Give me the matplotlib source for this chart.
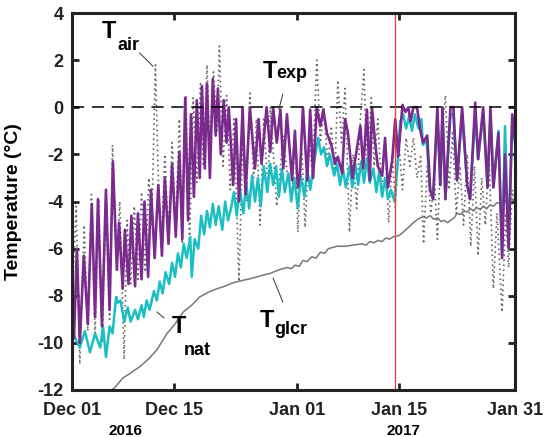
import numpy as np
import pandas as pd
import matplotlib
matplotlib.use("Agg")
import matplotlib.pyplot as plt

plt.rcParams['font.family'] = ['Liberation Sans', 'DejaVu Sans']
plt.rcParams['font.weight'] = 'bold'
plt.rcParams['axes.unicode_minus'] = False

# time axis: days since 2016-12-01 00:00
start = pd.Timestamp("2016-12-01")

# T_exp (purple) turning points
exp_day = [0.0, 0.3, 0.7, 1.1, 1.65, 2.2, 2.75, 3.2, 3.6, 4.15, 4.7, 5.2, 5.65, 6.2, 6.5, 7.0,
           7.3, 7.8, 8.2, 8.7, 9.1, 9.6, 10.0, 10.5, 10.9, 11.4, 11.9, 12.4, 12.8, 13.3, 13.8,
           14.3, 14.8, 15.2, 15.6, 16.0, 16.4, 16.8, 17.2, 17.6, 17.9, 18.3, 18.6, 19.0, 19.4,
           19.8, 20.1, 20.5, 20.9, 21.3, 21.6, 22.2, 22.6, 23.0, 23.5, 23.9, 24.5, 25.2, 25.7,
           26.1, 26.8, 27.3, 27.7, 28.2, 28.7, 29.1, 29.6, 30.3, 30.7, 31.1, 31.4, 31.8, 32.4,
           32.8, 33.2, 33.7, 34.2, 34.6, 35.1, 35.7, 36.2, 36.6, 37.2, 37.6, 38.0, 38.6, 39.7,
           40.1, 40.6, 41.0, 41.3, 41.7, 42.1, 42.7, 43.1, 43.5, 44.1, 44.5, 44.9, 45.5, 45.9,
           46.3, 46.6, 47.0, 47.5, 47.9, 48.3, 48.9, 49.3, 49.7, 50.3, 50.7, 51.0, 51.4, 52.1,
           52.5, 53.0, 53.7, 54.4, 54.8, 55.5, 55.9, 56.6, 57.2, 57.6, 58.0, 58.7, 59.2, 59.6,
           60.1, 60.6, 61.0]
exp_val = [-8.0, -9.8, -6.0, -10.0, -6.3, -9.2, -4.1, -8.9, -3.9, -9.3, -3.5, -8.6, -2.3, -6.9,
           -4.9, -7.7, -5.2, -7.5, -4.6, -7.6, -4.5, -7.3, -4.0, -7.2, -3.5, -6.4, -3.3, -6.3,
           -3.0, -5.8, -2.4, -5.5, -1.9, -5.6, 0.4, -4.8, -0.3, -3.8, 0.3, -3.0, 0.9, -2.6, 1.0,
           -3.0, 1.2, -1.2, 0.8, -2.0, 0.3, -1.5, 0.0, -3.3, -0.5, -4.0, 0.0, -3.7, 0.0, -2.6,
           -0.5, -2.4, 0.0, -1.9, 0.0, -1.5, -0.1, -2.6, -0.3, -3.1, -1.0, -3.4, -2.8, 0.0, -3.1,
           -0.1, -3.0, 0.0, -0.8, -0.1, -1.1, -1.6, -2.4, -2.1, -2.8, -0.5, -1.1, -3.0, -0.8,
           -2.6, -0.1, -3.1, 0.0, -1.4, -2.5, -2.9, -1.3, -3.4, -2.2, -0.5, -2.1, 0.1, -0.2,
           0.0, -0.6, 0.0, 0.0, -0.9, -1.5, -1.2, -3.5, -3.9, 0.0, -3.3, 0.0, -3.9, 0.0,
           0.0, -3.1, 0.0, -3.3, -3.9, 0.2, -2.2, 0.0, -3.4, 0.0, -3.4, -1.1, -6.4, -2.0,
           -6.0, -0.3, -1.5]

# T_nat (cyan) turning points
nat_day = [0.0, 1.1, 1.8, 2.5, 3.2, 3.9, 4.3, 4.7, 5.2, 5.6, 6.1, 6.3, 6.7, 7.2, 7.7, 8.1, 8.7,
           9.1, 9.6, 9.9, 10.3, 10.7, 11.3, 11.7, 12.1, 12.5, 12.9, 13.4, 13.8, 14.2, 14.6, 15.0,
           15.4, 15.8, 16.3, 16.5, 16.9, 17.4, 17.8, 18.2, 18.6, 19.0, 19.4, 19.8, 20.2, 20.7,
           21.1, 21.5, 21.9, 22.3, 22.7, 23.1, 23.6, 24.0, 24.4, 24.8, 25.2, 25.6, 26.0, 26.4,
           26.9, 27.3, 27.7, 28.1, 28.5, 28.9, 29.3, 29.8, 30.2, 30.6, 31.1, 31.5, 32.0, 32.4,
           32.8, 33.3, 33.9, 34.3, 34.7, 35.1, 35.5, 36.1, 36.5, 36.9, 37.3, 37.7, 38.2, 38.6,
           39.0, 39.4, 39.8, 40.2, 40.6, 41.0, 41.5, 41.9, 42.3, 42.7, 43.1, 43.5, 43.9, 44.4,
           44.8, 45.2, 45.6, 46.0, 46.4, 46.8, 47.2, 47.7, 48.1, 48.3, 48.8, 49.3, 49.7, 50.3,
           50.7, 51.0, 51.4, 52.1, 52.5, 53.0, 53.7, 54.4, 54.8, 55.5, 55.9, 56.6, 57.2, 57.6,
           58.0, 58.7, 59.2, 59.6, 60.1, 60.6, 61.0]
nat_val = [-9.5, -10.2, -9.5, -10.4, -9.6, -10.2, -9.3, -10.6, -9.3, -9.6, -8.05, -8.3, -8.2,
           -9.1, -8.5, -9.1, -8.6, -9.0, -8.4, -8.9, -8.2, -8.6, -7.8, -8.2, -7.4, -7.9, -7.0,
           -7.5, -6.6, -7.2, -6.2, -6.8, -5.8, -6.4, -5.5, -7.2, -5.6, -6.0, -4.6, -5.4, -4.4,
           -5.1, -4.1, -5.0, -4.2, -5.2, -4.0, -4.8, -4.3, -3.6, -4.6, -3.4, -4.5, -3.2, -4.3,
           -2.9, -4.0, -3.0, -4.2, -2.5, -3.6, -2.4, -3.3, -2.5, -3.8, -2.6, -3.6, -2.8, -4.0,
           -3.0, -4.3, -2.9, -3.8, -2.6, -3.5, -2.4, -1.3, -2.0, -1.7, -2.5, -2.0, -2.9, -2.4,
           -3.3, -2.6, -3.4, -2.5, -3.4, -2.4, -3.3, -2.3, -3.2, -2.2, -3.2, -2.6, -3.6, -2.7,
           -3.8, -3.0, -3.9, -3.5, -4.0, -2.5, -0.6, -0.3, -0.9, -0.4, -1.0, -0.3, -0.9, -0.5,
           -1.6, -1.4, -3.5, -3.9, -0.3, -3.3, -0.3, -3.9, -0.3, -0.3, -3.1, -0.3, -3.3, -3.9,
           -0.3, -2.2, -0.3, -3.4, -0.3, -3.4, -1.0, -6.2, -0.8, -5.8, -0.5, -1.5]

# T_air (dotted) turning points
air_day = [0.0, 0.6, 1.1, 1.7, 2.2, 2.7, 3.2, 3.7, 4.2, 4.7, 5.2, 5.6, 6.2, 6.6, 7.2, 7.6, 8.1,
           8.6, 9.1, 9.6, 10.1, 10.6, 11.0, 11.5, 11.9, 12.3, 12.8, 13.3, 13.8, 14.3, 14.8, 15.2,
           15.7, 16.2, 16.7, 17.2, 17.7, 18.1, 18.6, 19.0, 19.5, 20.0, 20.3, 20.8, 21.3, 21.8,
           22.3, 23.0, 23.5, 24.0, 24.5, 25.0, 25.4, 25.9, 26.4, 27.0, 27.3, 28.2, 29.1, 29.7,
           30.3, 30.7, 31.1, 31.6, 32.1, 32.7, 33.1, 33.7, 34.2, 34.7, 35.2, 35.7, 36.2, 36.6,
           37.1, 37.6, 38.2, 38.7, 39.2, 39.7, 40.2, 40.6, 41.2, 41.6, 42.1, 42.6, 43.1, 43.6,
           44.1, 44.5, 45.0, 45.5, 46.0, 46.5, 47.0, 47.5, 48.0, 48.4, 48.9, 49.4, 49.9, 50.3,
           50.8, 51.4, 51.9, 52.4, 52.9, 53.4, 53.9, 54.4, 54.9, 55.4, 55.9, 56.4, 56.9, 57.4,
           58.0, 58.5, 59.2, 59.7, 60.1, 60.6, 61.0]
air_val = [-8.5, -4.2, -10.9, -5.0, -9.5, -3.7, -9.8, -3.9, -10.0, -3.5, -9.0, -1.6, -6.5, -4.0,
           -10.7, -4.8, -7.5, -4.2, -7.3, -3.6, -7.0, -3.0, -5.0, 1.8, -3.0, -6.0, -2.0, -5.5,
           -1.5, -5.0, -0.5, -5.8, 0.5, -5.9, 0.4, -3.2, 1.0, -2.5, 1.8, -2.0, 1.5, -1.0, 2.6,
           -2.5, 0.5, -3.5, -0.5, -7.4, -1.5, -4.0, 0.6, -3.0, -0.5, -5.0, -0.5, -3.5, 0.0,
           -4.2, -1.2, -3.0, -3.7, -1.0, -5.3, -1.5, -5.1, -1.0, -3.0, 2.0, -1.5, 0.0, -2.5,
           -0.8, -2.8, 1.15, -1.5, 0.8, -5.3, -2.0, -4.3, -0.5, 1.6, -2.5, 0.4, -2.5, -0.5,
           -3.5, -1.5, -4.9, -2.0, -4.3, -1.5, -3.5, -1.3, -2.5, -1.3, -3.0, -2.1, -5.8, -2.5,
           -4.5, -3.0, -5.6, -1.5, 0.5, -3.5, -1.0, -4.5, -2.5, -5.0, -2.0, -5.9, -2.5, -6.3,
           -3.0, -5.0, -2.0, -7.7, -4.5, -8.7, -4.5, -6.8, -3.5, -4.2]

# T_glcr (solid grey), small diurnal wiggle included
glcr_day = [5.0, 5.9, 7.0, 8.0, 9.4, 10.5, 11.7, 13.1, 14.2, 15.3, 16.5, 17.6, 18.8, 20.0, 21.0,
            22.2, 23.5, 24.9, 26.0, 27.3, 28.5, 29.6, 30.2, 30.7, 31.3, 31.8, 32.4, 33.0, 33.6,
            34.2, 34.8, 35.3, 36.5, 37.6, 38.7, 39.9, 40.5, 41.0, 41.6, 42.1, 42.7, 43.2, 43.7,
            44.2, 45.0, 45.6, 46.3, 47.0, 47.6, 48.3, 48.8, 49.3, 49.8, 50.3, 50.8, 51.2, 51.7,
            52.1, 52.6, 53.0, 53.5, 53.9, 54.4, 54.8, 55.3, 55.7, 56.2, 56.6, 57.1, 57.5, 58.0,
            58.5, 59.2, 59.9, 60.5, 61.0]
glcr_val = [-12.1, -11.9, -11.5, -11.3, -11.0, -10.7, -10.3, -9.6, -9.2, -8.7, -8.4, -8.05,
            -7.85, -7.7, -7.6, -7.45, -7.35, -7.25, -7.15, -7.05, -6.9, -6.8, -6.85, -6.7,
            -6.75, -6.5, -6.55, -6.35, -6.4, -6.15, -6.2, -6.0, -5.9, -5.9, -5.85, -5.8, -5.85,
            -5.7, -5.75, -5.65, -5.7, -5.55, -5.6, -5.5, -5.45, -5.3, -5.1, -4.9, -4.75, -4.65,
            -4.7, -4.6, -4.75, -4.7, -4.85, -4.8, -4.9, -4.8, -4.7, -4.5, -4.55, -4.4, -4.45,
            -4.3, -4.4, -4.25, -4.35, -4.2, -4.3, -4.15, -4.2, -4.05, -4.1, -3.95, -4.0, -3.85]

tick_days = [0, 14, 31, 45, 61]
tick_labels = ["Dec 01", "Dec 15", "Jan 01", "Jan 15", "Jan 31"]
year_days = [7.4, 45.6]
year_labels = ["2016", "2017"]
event_day = 44.4  # red marker line


def to_dates(days):
    return start + pd.to_timedelta(np.asarray(days, dtype=float), unit="D")


fig = plt.figure(figsize=(5.44, 4.37), dpi=100)
ax = fig.add_axes([0.132, 0.1076, 0.815, 0.8626])

ax.plot(to_dates(air_day), air_val, ls=(0, (1, 2)), color="#666666", lw=1.2)
ax.plot(to_dates(glcr_day), glcr_val, color="#777777", lw=1.1)
ax.plot(to_dates(nat_day), nat_val, color="#1bbfc3", lw=1.8)
ax.plot(to_dates(exp_day), exp_val, color="#7b2a8d", lw=1.9)
ax.axhline(0, color="black", lw=1.1, ls=(0, (8, 5)))
ax.axvline(to_dates([event_day])[0], color="#ff3030", lw=0.9)

ax.set_xlim(to_dates([0])[0], to_dates([61])[0])
ax.set_ylim(-12, 4)
ax.set_yticks(np.arange(-12, 5, 2))
ax.set_xticks(to_dates(tick_days))
ax.set_xticklabels(tick_labels)
ax.tick_params(direction="in", length=5, width=2, top=True, right=True,
               labelsize=13, pad=6, colors="#222222")
ax.tick_params(axis="x", pad=9)
for lab in ax.get_xticklabels() + ax.get_yticklabels():
    lab.set_fontweight("bold")
for sp in ax.spines.values():
    sp.set_linewidth(2.2)
    sp.set_color("#222222")
ax.set_ylabel("Temperature (°C)", fontsize=14, fontweight="bold")
ax.yaxis.set_label_coords(-0.112, 0.5)

# year labels under the date ticks
trans = ax.get_xaxis_transform()
for d, lab in zip(year_days, year_labels):
    ax.text(to_dates([d])[0], -0.11, lab, transform=trans, ha="center", va="center",
            fontsize=11, fontweight="bold")

# series labels
def label(x, y, sub, xs, ys):
    ax.text(x, y, "T", transform=ax.transAxes, fontsize=17, fontweight="bold", va="baseline")
    ax.text(xs, ys, sub, transform=ax.transAxes, fontsize=13, fontweight="bold", va="baseline")

label(0.068, 0.934, "air", 0.102, 0.902)
label(0.431, 0.828, "exp", 0.462, 0.828)
label(0.226, 0.151, "nat", 0.253, 0.093)
label(0.424, 0.167, "glcr", 0.456, 0.149)

# leader lines
for (x0, y0, x1, y1) in [(0.153, 0.894, 0.183, 0.859), (0.476, 0.785, 0.467, 0.745),
                         (0.192, 0.207, 0.208, 0.191), (0.454, 0.297, 0.476, 0.233)]:
    ax.plot([x0, x1], [y0, y1], color="#333333", lw=0.7, transform=ax.transAxes)

fig.savefig("out.png", dpi=100)
